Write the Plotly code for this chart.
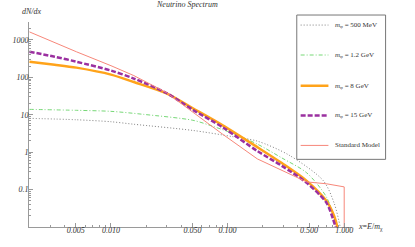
import plotly.graph_objects as go

# ---- data ----
x_500 = [0.002, 0.00505, 0.01, 0.0157, 0.0504, 0.110, 0.180, 0.335, 0.664, 0.823, 0.925, 0.96]
y_500 = [8.0, 7.33, 6.49, 5.56, 3.8, 2.6, 1.97, 0.84, 0.171, 0.042, 0.01, 0.005]

x_1200 = [0.002, 0.00505, 0.01, 0.0191, 0.0504, 0.0747, 0.110, 0.180, 0.292, 0.477, 0.703, 0.872, 0.925]
y_1200 = [13.9, 13.1, 12.3, 10.2, 7.1, 4.9, 3.2, 1.64, 0.70, 0.28, 0.064, 0.01, 0.005]

x_8 = [0.002, 0.00329, 0.00505, 0.01, 0.0157, 0.0299, 0.0504, 0.0908, 0.180, 0.292, 0.477, 0.703, 0.823, 0.889]
y_8 = [261, 217, 181, 118, 74.6, 37, 14.8, 5.2, 1.36, 0.51, 0.171, 0.050, 0.019, 0.008]

x_15 = [0.002, 0.00329, 0.00505, 0.01, 0.0157, 0.0299, 0.0504, 0.0908, 0.180, 0.292, 0.477, 0.703, 0.80, 0.872]
y_15 = [481, 354, 261, 151, 92.5, 38, 13.5, 4.6, 1.07, 0.43, 0.151, 0.0447, 0.0168, 0.0069]

x_sm = [0.002, 0.00329, 0.00505, 0.01, 0.0157, 0.0299, 0.0504, 0.0908, 0.180, 0.342, 0.477, 0.703, 0.98, 1.0, 1.0]
y_sm = [1630, 833, 481, 204, 111, 39, 11.6, 3.0, 0.66, 0.26, 0.16, 0.143, 0.119, 0.118, 0.001]

x_tickvals = [0.005, 0.01, 0.05, 0.1, 0.5, 1.0]
x_ticktext = ["0.005", "0.010", "0.050", "0.100", "0.500", "1.000"]
y_tickvals = [0.1, 1, 10, 100, 1000]
y_ticktext = ["0.1", "1", "10", "100", "1000"]

names = ["<i>m</i><sub>φ</sub> = 500 MeV", "<i>m</i><sub>φ</sub> = 1.2 GeV",
         "<i>m</i><sub>φ</sub> = 8 GeV", "<i>m</i><sub>φ</sub> = 15 GeV", "Standard Model"]

SERIF = "Liberation Serif"
TXT = "#333333"

styles = [
    dict(color="#7f7f7f", width=1, dash="1px,2px"),
    dict(color="#77d877", width=1, dash="4px,2px,1px,2px"),
    dict(color="#ffa31a", width=2.5, dash="solid"),
    dict(color="#9b30a0", width=2.5, dash="5px,2px"),
    dict(color="#f7877a", width=1, dash="solid"),
]
shapes_kind = ["spline", "spline", "spline", "spline", "linear"]
series = [(x_500, y_500), (x_1200, y_1200), (x_8, y_8), (x_15, y_15), (x_sm, y_sm)]

fig = go.Figure()
for (xs, ys), ln, nm, sk in zip(series, styles, names, shapes_kind):
    line = dict(ln, shape=sk)
    if sk == "spline":
        line["smoothing"] = 0.8
    fig.add_trace(go.Scatter(x=xs, y=ys, mode="lines", line=line, name=nm, showlegend=False))

minor_x = [m * 10 ** e for e in range(-3, 1) for m in range(1, 10)]
minor_y = [m * 10 ** e for e in range(-2, 4) for m in range(1, 10)]

axis_common = dict(showline=True, linecolor="#9a9a9a", linewidth=1, showgrid=False,
                   zeroline=False, ticks="inside", ticklen=4, tickcolor="#9a9a9a",
                   tickfont=dict(family=SERIF, size=8, color=TXT, style="italic"),
                   tickmode="array")

fig.update_xaxes(type="log", range=[-2.703, 0.067], tickvals=x_tickvals, ticktext=x_ticktext,
                 ticklabelstandoff=-5,
                 minor=dict(tickvals=minor_x, ticks="inside", ticklen=2, tickcolor="#9a9a9a"),
                 **axis_common)
fig.update_yaxes(type="log", range=[-2, 3.477], tickvals=y_tickvals, ticktext=y_ticktext,
                 ticklabelstandoff=-2,
                 minor=dict(tickvals=minor_y, ticks="inside", ticklen=2, tickcolor="#9a9a9a"),
                 **axis_common)

# ---- manual legend (paper coordinates) ----
shapes = [dict(type="rect", xref="paper", yref="paper", x0=0.829, x1=1.104, y0=0.330, y1=1.034,
               line=dict(color="#777777", width=1), fillcolor="white", layer="above")]
annotations = []
legend_y = [0.985, 0.839, 0.689, 0.544, 0.398]
for ly, ln, nm in zip(legend_y, styles, names):
    shapes.append(dict(type="line", xref="paper", yref="paper", x0=0.841, x1=0.927, y0=ly, y1=ly,
                       line=dict(color=ln["color"], width=ln["width"], dash=ln["dash"]), layer="above"))
    annotations.append(dict(text=nm, xref="paper", yref="paper", x=0.94, y=ly, xanchor="left",
                            yanchor="middle", showarrow=False,
                            font=dict(family=SERIF, size=7, color=TXT)))

annotations += [
    dict(text="<i>Neutrino Spectrum</i>", xref="paper", yref="paper", x=0.49, y=1.085,
         xanchor="center", yanchor="middle", showarrow=False,
         font=dict(family=SERIF, size=8, color=TXT)),
    dict(text="<i>dN/dx</i>", xref="paper", yref="paper", x=0.01, y=1.02,
         xanchor="center", yanchor="bottom", showarrow=False,
         font=dict(family=SERIF, size=8, color=TXT)),
    dict(text="<i>x</i>=<i>E</i>/<i>m</i><sub>χ</sub>", xref="paper", yref="paper", x=1.012, y=0.0,
         xanchor="left", yanchor="middle", showarrow=False,
         font=dict(family=SERIF, size=8, color=TXT)),
]

fig.update_layout(
    width=415, height=247,
    margin=dict(l=24, r=63, t=22, b=19),
    paper_bgcolor="white", plot_bgcolor="white",
    showlegend=False,
    shapes=shapes,
    annotations=annotations,
)

fig.write_html("out.html", config={"displayModeBar": False},
               post_script="document.body.style.margin='0';document.body.style.overflow='hidden';")
